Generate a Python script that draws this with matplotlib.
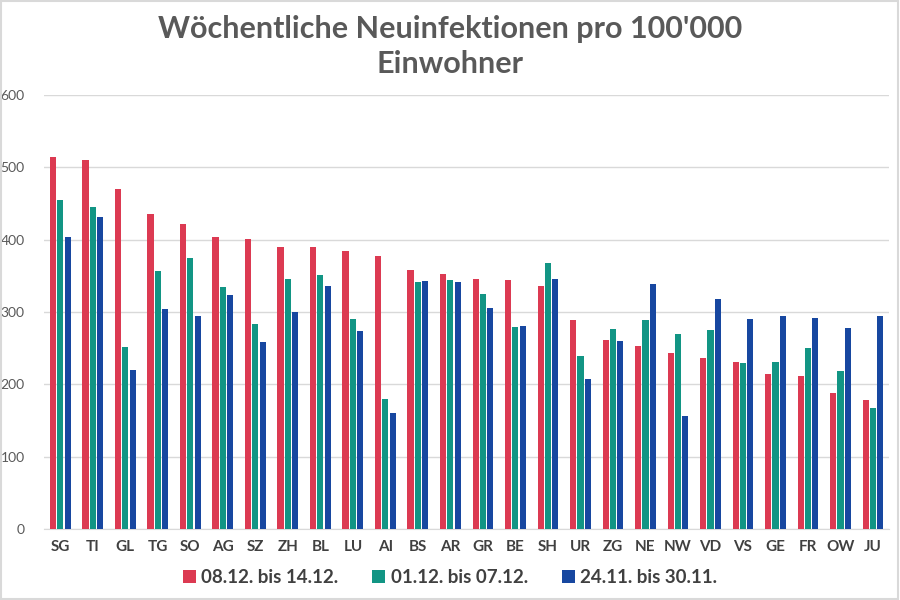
import numpy as np
import matplotlib.pyplot as plt
from matplotlib.patches import Rectangle

kantone = ["SG", "TI", "GL", "TG", "SO", "AG", "SZ", "ZH", "BL", "LU", "AI", "BS", "AR",
           "GR", "BE", "SH", "UR", "ZG", "NE", "NW", "VD", "VS", "GE", "FR", "OW", "JU"]
woche_0812 = [514, 510, 470, 436, 421, 404, 401, 390, 390, 384, 377, 358, 353,
              345, 344, 336, 289, 261, 253, 243, 237, 231, 215, 212, 188, 179]
woche_0112 = [455, 445, 252, 356, 374, 334, 284, 345, 351, 291, 180, 342, 344,
              325, 279, 368, 239, 276, 289, 269, 275, 229, 231, 250, 219, 167]
woche_2411 = [403, 431, 220, 304, 295, 324, 258, 300, 336, 274, 161, 343, 342,
              305, 281, 345, 208, 260, 338, 157, 318, 290, 295, 292, 278, 295]
serien = ["08.12. bis 14.12.", "01.12. bis 07.12.", "24.11. bis 30.11."]
farben = ["#DC3A52", "#129584", "#1747A0"]

plt.rcParams["font.family"] = ["Lato", "DejaVu Sans"]

fig = plt.figure(figsize=(9, 6), dpi=100)
ax = fig.add_axes([0.049, 0.118, 0.939, 0.724])

x = np.arange(len(kantone))
for i, (werte, name, farbe) in enumerate(zip([woche_0812, woche_0112, woche_2411], serien, farben)):
    ax.bar(x + (i - 1) * 0.225, werte, width=0.19, color=farbe, label=name, zorder=3)

ax.set_xlim(-0.5, len(kantone) - 0.5)
ax.set_ylim(0, 600)
ax.set_yticks(range(0, 601, 100))
ax.yaxis.grid(True, color="#D9D9D9", linewidth=1, zorder=0)
for s in ["top", "right", "left"]:
    ax.spines[s].set_visible(False)
ax.spines["bottom"].set_color("#D9D9D9")
ax.tick_params(axis="both", length=0)
ax.tick_params(axis="y", labelsize=10, labelcolor="#595959", pad=14)
ax.set_xticks(x)
ax.set_xticklabels(kantone, fontsize=11, fontweight="bold", color="#404040")
ax.tick_params(axis="x", pad=8)

fig.suptitle("Wöchentliche Neuinfektionen pro 100'000\nEinwohner", fontsize=22,
             fontweight="bold", color="#595959", y=0.975, linespacing=1.3)

leg = fig.legend(loc="center", bbox_to_anchor=(0.5, 0.037), ncol=3, frameon=False,
                 handlelength=0.7, handleheight=0.7, handletextpad=0.3, columnspacing=1.8,
                 prop={"size": 13.5, "weight": "bold"})
for t in leg.get_texts():
    t.set_color("#404040")

fig.patches.append(Rectangle((0.001, 0.001), 0.997, 0.997, transform=fig.transFigure,
                             fill=False, edgecolor="#D9D9D9", linewidth=1.5))

fig.savefig("out.png", dpi=100)
